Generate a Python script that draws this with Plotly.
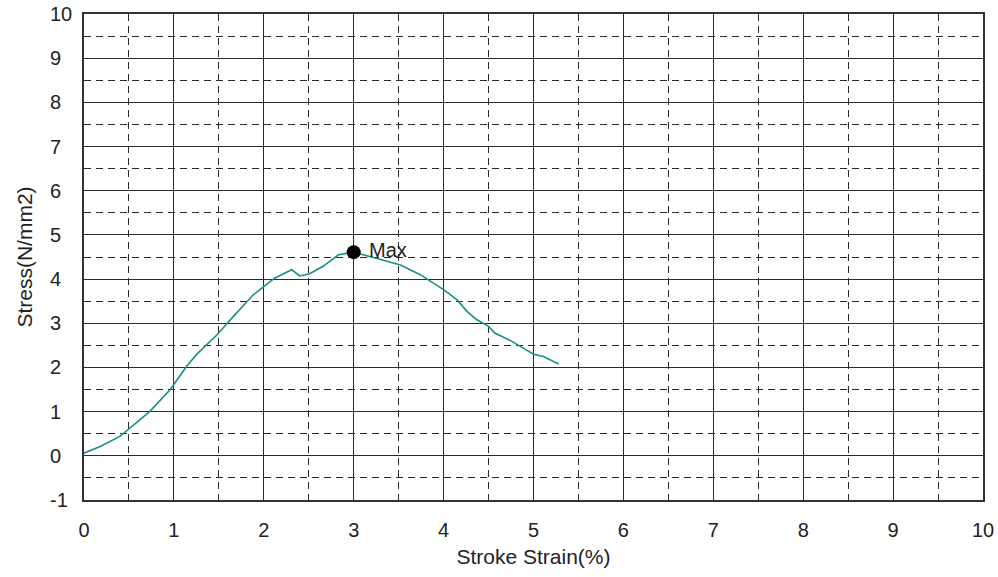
import plotly.graph_objects as go

strain = [0.0, 0.18, 0.40, 0.49, 0.73, 0.96, 1.14, 1.25, 1.48, 1.66, 1.88, 2.12, 2.31, 2.40,
          2.51, 2.66, 2.83, 3.0, 3.25, 3.52, 3.74, 4.0, 4.15, 4.26, 4.37, 4.50, 4.57, 4.76,
          5.0, 5.11, 5.28]
stress = [0.06, 0.21, 0.44, 0.59, 1.0, 1.5, 2.02, 2.29, 2.74, 3.15, 3.64, 4.02, 4.21, 4.07,
          4.12, 4.29, 4.55, 4.61, 4.47, 4.32, 4.10, 3.76, 3.53, 3.27, 3.08, 2.93, 2.78, 2.59,
          2.30, 2.25, 2.08]
max_x = [3.0]
max_y = [4.61]
max_label = [" Max"]
y_ticks = [-1, 0, 1, 2, 3, 4, 5, 6, 7, 8, 9, 10]
y_tick_labels = ["-1", "0", "1", "2", "3", "4", "5", "6", "7", "8", "9", "10"]

FONT = "Liberation Sans, Arial, sans-serif"
FS = 20

fig = go.Figure()
fig.add_trace(go.Scatter(x=strain, y=stress, mode="lines",
                         line=dict(color="#179089", width=1.6), hoverinfo="skip"))
fig.add_trace(go.Scatter(x=max_x, y=max_y, mode="markers+text", text=max_label,
                         textposition="middle right",
                         textfont=dict(family=FONT, size=FS, color="#222"),
                         marker=dict(color="black", size=14)))

axis_common = dict(
    showgrid=True, gridcolor="#2a2a2a", gridwidth=1.3,
    zeroline=False, showline=True, linecolor="#333", linewidth=1.5, mirror=True,
    tickfont=dict(family=FONT, size=FS, color="#222"),
    dtick=1,
    minor=dict(dtick=0.5, showgrid=True, gridcolor="#2a2a2a", gridwidth=1.3, griddash="7px,5px"),
)

# left-aligned y tick labels, positioned by the y axis scale
for v, t in zip(y_ticks, y_tick_labels):
    fig.add_annotation(x=-0.0405, xref="paper", y=v, yref="y", text=t, showarrow=False,
                       xanchor="left", yanchor="middle",
                       font=dict(family=FONT, size=FS, color="#222"))

fig.update_layout(
    width=998, height=577,
    margin=dict(l=84, r=15, t=14, b=77),
    paper_bgcolor="white", plot_bgcolor="white",
    showlegend=False,
    xaxis=dict(range=[0, 10], tick0=0, ticklabelstandoff=11, automargin=False,
               title=dict(text="Stroke Strain(%)", font=dict(family=FONT, size=21, color="#222"),
                          standoff=10),
               **axis_common),
    yaxis=dict(range=[-1, 10], tick0=0, showticklabels=False, automargin=False,
               title=dict(text="Stress(N/mm2)", font=dict(family=FONT, size=21, color="#222"),
                          standoff=44),
               **axis_common),
)

fig.write_html("out.html")
